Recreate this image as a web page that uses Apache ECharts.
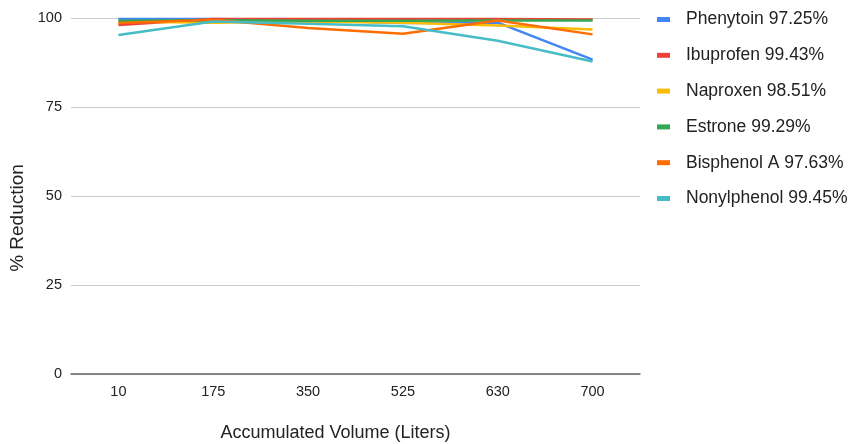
<!DOCTYPE html>
<html><head><meta charset="utf-8">
<script src="https://cdn.jsdelivr.net/npm/echarts@6/dist/echarts.min.js"></script>
<style>html,body{margin:0;padding:0;background:#fff}#c{width:850px;height:444px}</style>
</head><body><div id="c"></div>
<script>
const categories = ['10', '175', '350', '525', '630', '700'];
const seriesNames = ['Phenytoin 97.25%', 'Ibuprofen 99.43%', 'Naproxen 98.51%', 'Estrone 99.29%', 'Bisphenol A 97.63%', 'Nonylphenol 99.45%'];
const phenytoin = [99.7, 99.7, 99.4, 98.6, 98.7, 88.3];
const ibuprofen = [98.0, 99.7, 99.7, 99.7, 99.7, 99.6];
const naproxen = [99.0, 98.7, 99.0, 98.7, 97.9, 96.8];
const estrone = [99.2, 99.4, 99.2, 99.2, 99.3, 99.3];
const bisphenolA = [98.6, 99.5, 97.2, 95.6, 99.3, 95.4];
const nonylphenol = [95.2, 99.0, 98.4, 97.7, 93.6, 87.8];
const yTicks = [0, 25, 50, 75, 100];

const colors = ['#4285f4', '#ea4335', '#fbbc04', '#34a853', '#ff6d01', '#46bdc6'];
const allData = [phenytoin, ibuprofen, naproxen, estrone, bisphenolA, nonylphenol];
const FONT = '"Liberation Sans", Arial, sans-serif';

const chart = echarts.init(document.getElementById('c'), null, {renderer: 'canvas'});
chart.setOption({
  animation: false,
  color: colors,
  textStyle: {fontFamily: FONT},
  grid: {left: 71, right: 210, top: 18, bottom: 70, containLabel: false, outerBoundsMode: 'none'},
  legend: {
    orient: 'vertical',
    left: 652, top: 5.5,
    itemWidth: 13, itemHeight: 5, itemGap: 17.8,
    icon: 'rect',
    textStyle: {fontSize: 17.5, color: '#222', fontFamily: FONT, padding: [0, 0, 0, 11]},
    data: seriesNames
  },
  xAxis: {
    type: 'category',
    data: categories,
    boundaryGap: true,
    name: 'Accumulated Volume (Liters)',
    nameLocation: 'middle',
    nameGap: 50,
    nameTextStyle: {fontSize: 18, color: '#222', fontFamily: FONT, padding: [0, 40, 0, 0]},
    axisLine: {lineStyle: {color: '#666', width: 1.5}},
    axisTick: {show: false},
    axisLabel: {fontSize: 14.5, color: '#222', margin: 10, fontFamily: FONT}
  },
  yAxis: {
    type: 'value',
    min: yTicks[0], max: yTicks[yTicks.length - 1], interval: 25,
    name: '% Reduction',
    nameLocation: 'middle',
    nameGap: 37,
    nameTextStyle: {fontSize: 19, color: '#222', fontFamily: FONT, padding: [0, 44, 0, 0]},
    axisLine: {show: false},
    axisTick: {show: false},
    axisLabel: {fontSize: 14.5, color: '#222', margin: 9, fontFamily: FONT},
    splitLine: {lineStyle: {color: '#cccccc', width: 1}}
  },
  series: seriesNames.map((n, i) => ({
    name: n,
    type: 'line',
    data: allData[i],
    symbol: 'none',
    lineStyle: {width: 2.5},
    z: 2 + i
  }))
});
</script></body></html>
